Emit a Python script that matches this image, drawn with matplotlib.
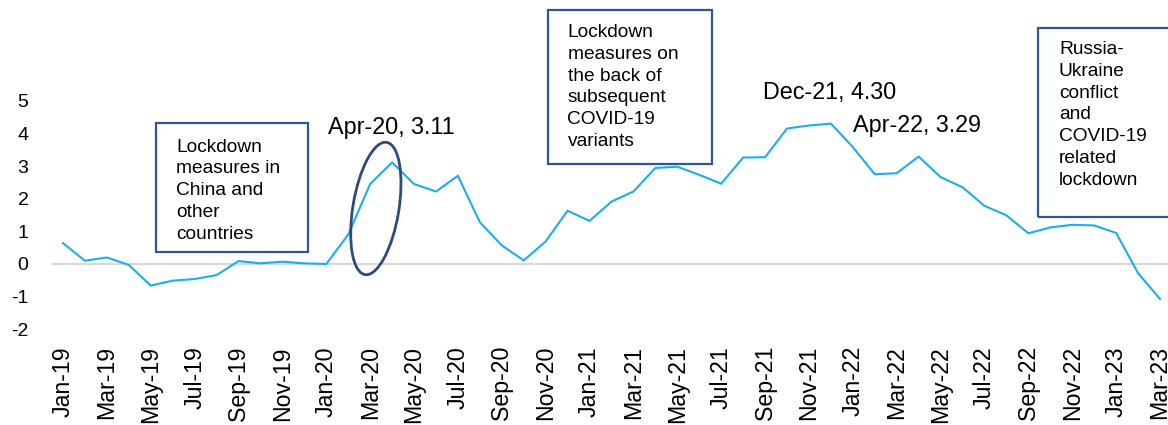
import matplotlib
matplotlib.use("Agg")
import matplotlib.pyplot as plt
import matplotlib.transforms as mtransforms
from matplotlib.patches import Rectangle, Ellipse
import pandas as pd

plt.rcParams['font.family'] = ['Liberation Sans', 'DejaVu Sans']
plt.rcParams['axes.unicode_minus'] = False

# Monthly series, Jan-2019 to Mar-2023
months = pd.date_range("2019-01-01", "2023-03-01", freq="MS").strftime("%b-%y").tolist()
values = [
    0.64, 0.10, 0.20, -0.03, -0.66, -0.51, -0.46, -0.34, 0.09, 0.02, 0.07, 0.02,   # 2019
    0.00, 0.90, 2.45, 3.11, 2.45, 2.22, 2.70, 1.28, 0.57, 0.11, 0.69, 1.63,        # 2020
    1.32, 1.91, 2.22, 2.94, 2.98, 2.73, 2.46, 3.26, 3.27, 4.15, 4.24, 4.30,        # 2021
    3.58, 2.75, 2.78, 3.29, 2.66, 2.35, 1.78, 1.49, 0.94, 1.12, 1.20, 1.18,        # 2022
    0.95, -0.28, -1.07,                                                          # 2023
]
yticks = [-2, -1, 0, 1, 2, 3, 4, 5]

# Point labels: (month, value)
callouts = [("Apr-20", 3.11), ("Dec-21", 4.30), ("Apr-22", 3.29)]

# Event notes
notes = [
    ["Lockdown", "measures in", "China and", "other", "countries"],
    ["Lockdown", "measures on", "the back of", "subsequent", "COVID-19", "variants"],
    ["Russia-", "Ukraine", "conflict", "and", "COVID-19", "related", "lockdown"],
]

W, H = 1168, 425
fig = plt.figure(figsize=(W / 100, H / 100), dpi=100)

def fx(x):
    return x / W

def fy(y):
    return 1 - y / H

ax = fig.add_axes([fx(52), (H - 339.1) / H, (W - 52) / W, 254.7 / H])
xs = list(range(len(months)))
ax.plot(xs, values, color="#1BAEEE", lw=1.5, zorder=3, solid_joinstyle="miter")
ax.axhline(0, color="#D9D9D9", lw=1.6, zorder=1)

ax.set_xlim(-0.5, (W - 63) / 21.94)
ax.set_ylim(-2.3, 5.5)
ax.set_yticks(yticks)
ax.set_yticklabels([str(t) for t in yticks], fontsize=14)
ax.set_xticks(xs[::2])
ax.set_xticklabels(months[::2], rotation=90, fontsize=16.7)
ax.tick_params(axis="y", length=0, pad=17)
ax.tick_params(axis="x", length=0, pad=5)
for s in ax.spines.values():
    s.set_visible(False)

# Value callouts
callout_pos = [(328, 134), (763, 99.3), (853, 131.7)]
for (m, v), (px, py) in zip(callouts, callout_pos):
    fig.text(fx(px), fy(py), f"{m}, {v:.2f}", fontsize=16.8, ha="left", va="baseline")

# Note boxes (left, top, right, bottom in pixels) with text start and first baseline
boxes = [
    ((156, 123, 308, 252), 176, 151.7),
    ((548, 10, 712, 164), 567.5, 37.3),
    ((1038, 27.7, 1185, 216.5), 1059, 54.3),
]
box_color = "#2F5597"
for lines, ((l, t, r, b), tx, ty) in zip(notes, boxes):
    rect = Rectangle((fx(l), fy(b)), fx(r) - fx(l), fy(t) - fy(b), transform=fig.transFigure,
                     fill=False, edgecolor=box_color, lw=1.6, zorder=5)
    fig.add_artist(rect)
    for i, line in enumerate(lines):
        fig.text(fx(tx), fy(ty + i * 21.72), line, fontsize=13.8, ha="left", va="baseline")

# Ellipse highlighting the early-2020 jump
trans = fig.dpi_scale_trans + mtransforms.ScaledTranslation(14.26, 1.70, ax.transData)
ell = Ellipse((0, 0), 0.46, 1.34, angle=-9.3, transform=trans,
              fill=False, edgecolor="#2E4A7E", lw=2.0, zorder=6)
fig.add_artist(ell)

fig.savefig("out.png", dpi=100)
